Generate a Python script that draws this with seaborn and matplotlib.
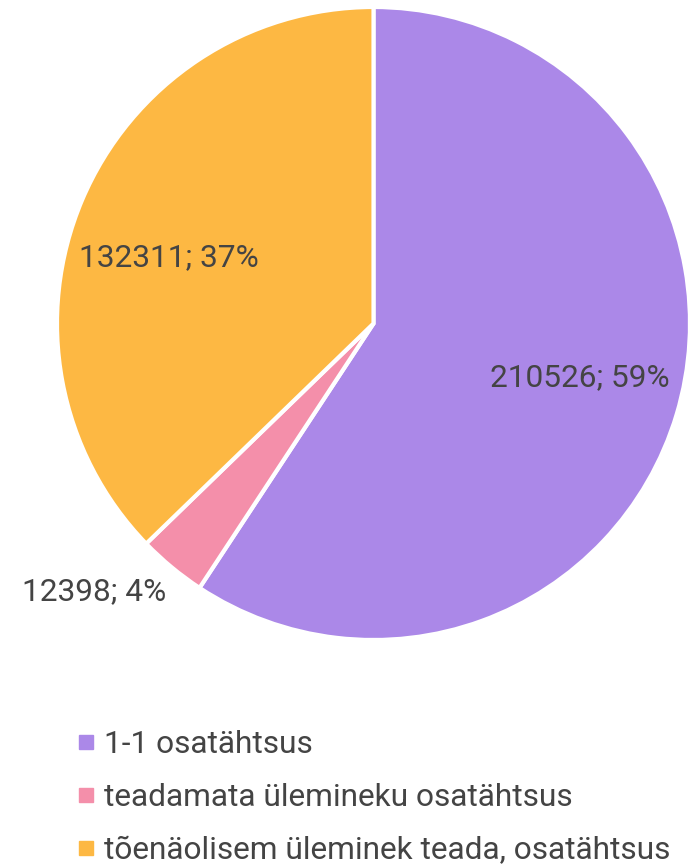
import numpy as np
import matplotlib
matplotlib.use("Agg")
import matplotlib.pyplot as plt
import seaborn as sns
from matplotlib.lines import Line2D

sns.set_theme(style="white")
plt.rcParams['font.family'] = ['Roboto', 'DejaVu Sans']

labels = ['1-1 osatähtsus', 'teadamata ülemineku osatähtsus',
          'tõenäolisem üleminek teada, osatähtsus']
values = [210526, 12398, 132311]
percents = [59, 4, 37]
colors = ['#AB88E8', '#F48FAA', '#FDB843']
text_color = '#444444'

W, H = 690, 867
fig = plt.figure(figsize=(W / 100, H / 100), dpi=100)
# pie spans x 57..690, y 7..640 (pixels)
ax = fig.add_axes([57 / W, (H - 640) / H, 633 / W, 633 / H])

wedges, _ = ax.pie(values, colors=colors, startangle=90, counterclock=False,
                   radius=1, wedgeprops=dict(edgecolor='white', linewidth=3))
ax.set_xlim(-1, 1)
ax.set_ylim(-1, 1)
ax.set_aspect('equal')
ax.axis('off')

# label placement: (radius, angle shift in degrees, horizontal alignment)
placement = [(0.675, 2, 'center'), (1.07, 2, 'right'), (0.68, 5, 'center')]
fs = 22.8
for w, v, p, (r, shift, ha) in zip(wedges, values, percents, placement):
    mid = np.deg2rad((w.theta1 + w.theta2) / 2 + shift)
    ax.text(r * np.cos(mid), r * np.sin(mid), f"{v}; {p}%", ha=ha, va='center',
            fontsize=fs, color=text_color, clip_on=False)

handles = [Line2D([], [], marker='s', linestyle='none', markersize=10,
                  markerfacecolor=c, markeredgecolor=c) for c in colors]
fig.legend(handles, labels, loc='upper left', bbox_to_anchor=(76 / W, 1 - 730 / H),
           frameon=False, fontsize=fs, labelcolor=text_color,
           handlelength=0.6, handletextpad=0.27, labelspacing=0.76,
           borderpad=0, borderaxespad=0)

fig.savefig('out.png', dpi=100)
